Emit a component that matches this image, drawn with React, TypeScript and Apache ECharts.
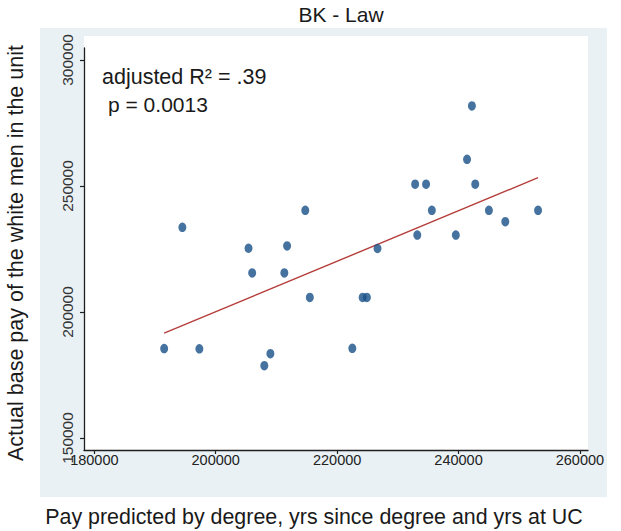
import React, { useEffect, useRef } from "react";
import * as echarts from "echarts";

// Scatter points: pay predicted (x) vs actual base pay (y)
const predictedPay = [
  191500, 194500, 197300, 205400, 206000, 208000, 209000, 211300, 211750,
  214750, 215500, 222500, 224200, 224900, 226650, 232850, 234650, 233200,
  235600, 239550, 241400, 242200, 242750, 245000, 247700, 253100,
];
const actualPay = [
  185500, 233600, 185400, 225300, 215500, 178700, 183450, 215500, 226200,
  240350, 205800, 185600, 205800, 205800, 225200, 250700, 250700, 230550,
  240350, 230550, 260600, 281750, 250700, 240350, 235850, 240350,
];
// Fitted line end points
const fitX = [191500, 253100];
const fitY = [191600, 253300];
// Tick values
const xTicks = [180000, 200000, 220000, 240000, 260000];
const yTicks = [150000, 200000, 250000, 300000];

const titleText = "BK - Law";
const xTitle = "Pay predicted by degree, yrs since degree and yrs at UC";
const yTitle = "Actual base pay of the white men in the unit";
const note1 = "adjusted R\u00B2 = .39";
const note2 = "p = 0.0013";

const FONT = "'Liberation Sans', Arial, Helvetica, sans-serif";

export default function App() {
  const ref = useRef<HTMLDivElement>(null);
  useEffect(() => {
    if (!ref.current) return;
    const chart = echarts.init(ref.current, null, { renderer: "svg" });
    const points = predictedPay.map((x, i) => [x, actualPay[i]]);
    const fit = fitX.map((x, i) => [x, fitY[i]]);
    chart.setOption({
      animation: false,
      backgroundColor: "#ffffff",
      grid: { left: 84, right: 33, top: 48, bottom: 81, containLabel: false },
      xAxis: {
        type: "value",
        min: 178300,
        max: 261330,
        splitLine: { show: false },
        axisLine: { show: true, onZero: false, lineStyle: { color: "#1f1f1f", width: 1.3 } },
        axisTick: { show: true, customValues: xTicks, length: 4, lineStyle: { color: "#1f1f1f", width: 1.2 } },
        axisLabel: {
          customValues: xTicks,
          formatter: (v: number) => String(v),
          margin: 2,
          fontSize: 14.5,
          fontFamily: "'Liberation Sans Narrow', 'Liberation Sans', Arial, sans-serif",
          color: "#222",
        },
      },
      yAxis: {
        type: "value",
        min: 145240,
        max: 304760,
        splitLine: { show: false },
        axisLine: { show: true, onZero: false, lineStyle: { color: "#1f1f1f", width: 1.3 } },
        axisTick: { show: true, customValues: yTicks, length: 4, lineStyle: { color: "#1f1f1f", width: 1.2 } },
        axisLabel: {
          customValues: yTicks,
          formatter: (v: number) => String(v),
          rotate: 90,
          margin: 9,
          fontSize: 15.5,
          fontFamily: FONT,
          color: "#333",
        },
      },
      graphic: [
        {
          type: "rect",
          silent: true,
          z: -100,
          shape: { x: 40, y: 28, width: 567, height: 469 },
          style: { fill: "#e9f1f4" },
        },
        {
          type: "rect",
          silent: true,
          z: -99,
          shape: { x: 84, y: 36, width: 504, height: 414 },
          style: { fill: "#ffffff" },
        },
        {
          type: "text",
          x: 341,
          y: 14,
          style: { text: titleText, fontSize: 21, fontFamily: FONT, fill: "#1a1a1a", align: "center", verticalAlign: "middle" },
        },
        {
          type: "text",
          x: 16,
          y: 253,
          rotation: Math.PI / 2,
          style: { text: yTitle, fontSize: 21.5, fontFamily: FONT, fill: "#1a1a1a", align: "center", verticalAlign: "middle" },
        },
        {
          type: "text",
          x: 314,
          y: 517,
          style: { text: xTitle, fontSize: 21.4, fontFamily: FONT, fill: "#1a1a1a", align: "center", verticalAlign: "middle" },
        },
        {
          type: "text",
          x: 102,
          y: 77,
          style: { text: note1, fontSize: 21.5, fontFamily: FONT, fill: "#1a1a1a", align: "left", verticalAlign: "middle" },
        },
        {
          type: "text",
          x: 108,
          y: 104,
          style: { text: note2, fontSize: 21, fontFamily: FONT, fill: "#1a1a1a", align: "left", verticalAlign: "middle" },
        },
      ],
      series: [
        {
          type: "line",
          data: fit,
          symbol: "none",
          lineStyle: { color: "#b53d3a", width: 1.4 },
          z: 2,
        },
        {
          type: "scatter",
          data: points,
          symbol: "circle",
          symbolSize: [8, 9.5],
          itemStyle: { color: "#174f86" },
          z: 3,
        },
      ],
    });
    return () => chart.dispose();
  }, []);
  return (
    <div
      ref={ref}
      style={{ position: "fixed", left: 0, top: 0, width: 621, height: 531 }}
    />
  );
}
